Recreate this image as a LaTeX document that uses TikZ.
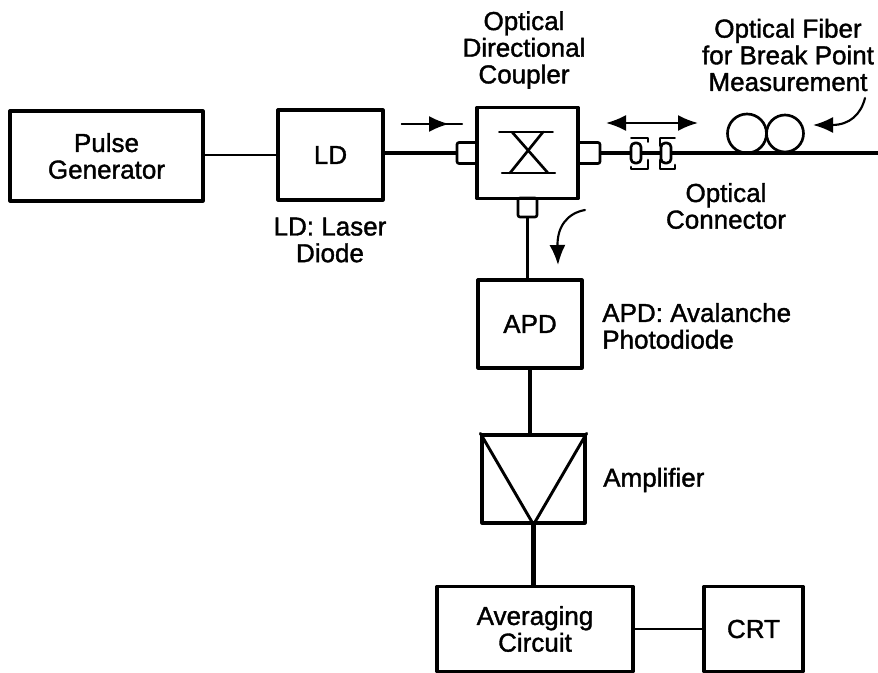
\documentclass[tikz,border=0pt]{standalone}
\usepackage{fontspec}
\setmainfont{Liberation Sans}[RawFeature={embolden=1.4}]
\usetikzlibrary{arrows.meta}

\tikzset{
  block/.style={draw,line width=2.4pt,inner sep=0pt,align=center},
  port/.style={draw,line width=2pt,inner sep=0pt,rounded corners=1.5pt},
  label/.style={inner sep=0pt,align=center,font=\fontsize{19.5}{20}\selectfont},
  wire/.style={line width=2.4pt},
  thinwire/.style={line width=1.6pt},
  head/.style={-{Latex[length=15pt,width=12pt]},line width=1.6pt},
}

\begin{document}
\begin{tikzpicture}[x=0.75pt,y=-0.75pt,line cap=round,line join=round]
  \useasboundingbox (0,0) rectangle (878,673);
  % blocks
  \node[block,minimum width=144.75pt,minimum height=67.5pt,label] (pulse) at (106.5,156) {Pulse\\Generator};
  \node[block,minimum width=78.75pt,minimum height=67.5pt,label] (ld) at (330.5,155) {LD};
  \node[block,minimum width=75.75pt,minimum height=68.25pt] (coupler) at (527.5,153) {};
  \node[block,minimum width=78pt,minimum height=66pt,label] (apd) at (530,324) {APD};
  \node[block,minimum width=77.25pt,minimum height=66pt] (amp) at (533.5,479) {};
  \node[block,minimum width=147pt,minimum height=63.75pt,label] (avg) at (535,629) {Averaging\\Circuit};
  \node[block,minimum width=74.25pt,minimum height=63.75pt,label] (crt) at (753.5,629) {CRT};
  % ports of the coupler
  \node[port,minimum width=15pt,minimum height=15.75pt] (portl) at (467,153) {};
  \node[port,minimum width=16.5pt,minimum height=15.75pt] (portr) at (589,153) {};
  \node[port,minimum width=14.25pt,minimum height=14.25pt] (portb) at (527.5,207.5) {};
  % optical connector
  \node[port,minimum width=7.5pt,minimum height=15pt,rounded corners=3pt] (conl) at (636,153) {};
  \node[port,minimum width=7.5pt,minimum height=15pt,rounded corners=3pt] (conr) at (666,153) {};
  % fiber coil
  \node[draw,circle,line width=2pt,minimum size=29.25pt,inner sep=0pt] (coila) at (747,133.5) {};
  \node[draw,circle,line width=2pt,minimum size=27.75pt,inner sep=0pt] (coilb) at (785,133.5) {};
  \coordinate (fiberend) at (878,153);
  % connectors
  \draw[thinwire] (pulse.east |- ld.west) -- (ld.west);
  \draw[wire] (ld.east |- portl.west) -- (portl.west);
  \draw[wire] (portr.east) -- (conl.west);
  \draw[wire] (conl.east) -- (conr.west);
  \draw[wire] (conr.east) -- (fiberend);
  \draw[thinwire] (portb.south) -- (portb.south |- apd.north);
  \draw[line width=3pt] (apd.south) -- (apd.south |- amp.north);
  \draw[line width=3.6pt] (amp.south) -- (amp.south |- avg.north);
  \draw[line width=0.9pt] (avg.east) -- (crt.west);
  % amplifier triangle
  \draw[line width=2.2pt] (amp.north west) -- (amp.south) -- (amp.north east);
  % coupler symbol
  \draw[line width=1.2pt] (499,132) -- (553,132);
  \draw[line width=1.6pt] (502,173) -- (555,173);
  \draw[line width=2pt] (512,132) -- (548,173);
  \draw[line width=2pt] (543,132) -- (510,173);
  % connector brackets
  \draw[line width=1.4pt] (648,138) -- (631,138) (648,138) -- (648,142);
  \draw[line width=2pt] (631,167) -- (631,169) -- (648,169) -- (648,160);
  \draw[line width=1.4pt] (660,138) -- (675,138) (660,138) -- (660,146);
  \draw[line width=2pt] (660,160) -- (660,169) -- (675,169) -- (675,165);
  % signal arrows
  \coordinate (inA) at (402,124);
  \coordinate (inB) at (462,124);
  \coordinate (inH) at (449,124);
  \draw[line width=1.8pt] (inA) -- (inB);
  \draw[head] (inA) -- (inH);
  \coordinate (biL) at (606,123);
  \coordinate (biR) at (698,123);
  \coordinate (biM) at (632,123);
  \coordinate (biN) at (676,123);
  \draw[line width=1pt] (biM) -- (biN);
  \draw[head] (biM) -- (biL);
  \draw[head] (biN) -- (biR);
  \coordinate (fibA) at (865,98);
  \coordinate (fibB) at (813,125);
  \draw[head] (fibA) .. controls (861,114) and (850,125) .. (fibB);
  \coordinate (downA) at (585,210);
  \coordinate (downB) at (558,265);
  \draw[head] (downA) .. controls (568,213) and (557,226) .. (downB);
  % labels
  \node[label] (lblcoupler) at (524,50) {Optical\\Directional\\Coupler};
  \node[label] (lblfiber) at (788,55) {Optical Fiber\\for Break Point\\Measurement};
  \node[label] (lblcon) at (726,206) {Optical\\Connector};
  \node[label] (lblld) at (330,240) {LD: Laser\\Diode};
  \node[label,align=left,anchor=west] (lblapd) at (602,326) {APD: Avalanche\\Photodiode};
  \node[label,anchor=west] (lblamp) at (603,480) {Amplifier};
\end{tikzpicture}
\end{document}
